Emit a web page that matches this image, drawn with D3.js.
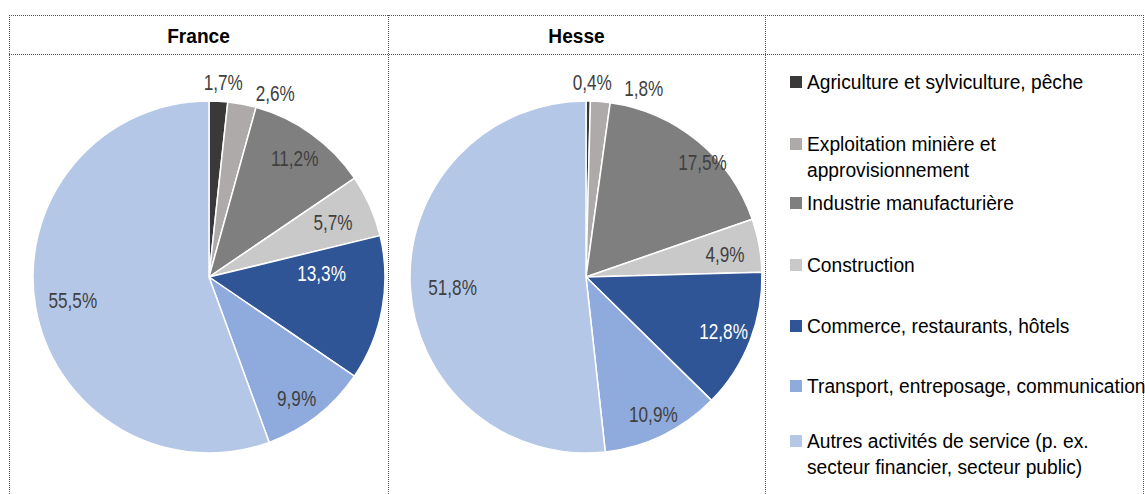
<!DOCTYPE html>
<html>
<head>
<meta charset="utf-8">
<script src="https://cdn.jsdelivr.net/npm/d3@7"></script>
<style>
  body { margin: 0; background: #fff; }
  svg { display: block; }
</style>
</head>
<body>
<div id="app"></div>
<script>
// categories and values
const categories = [
  'Agriculture et sylviculture, pêche',
  'Exploitation minière et|approvisionnement',
  'Industrie manufacturière',
  'Construction',
  'Commerce, restaurants, hôtels',
  'Transport, entreposage, communication',
  'Autres activités de service (p. ex.|secteur financier, secteur public)'
]
const colors = ['#3a3838', '#aeaaaa', '#7f7f7f', '#c9c9c9', '#2f5597', '#8faadc', '#b4c7e7']
const franceValues = [1.7, 2.6, 11.2, 5.7, 13.3, 9.9, 55.5]
const hesseValues = [0.4, 1.8, 17.5, 4.9, 12.8, 10.9, 51.8]
const titles = ['France', 'Hesse']

// label placement: fraction of radius and angle nudge (degrees) per slice
const franceLabelR = [1.11, 1.11, 0.835, 0.77, 0.64, 0.85, 0.785]
const franceLabelNudge = [1.1, 9, 0, 0, -12.3, 2, 0.3]
const hesseLabelR = [1.11, 1.123, 0.93, 0.8, 0.84, 0.87, 0.76]
const hesseLabelNudge = [1.1, 12.3, 6, 1, 0, -0.2, -1]

const W = 1145, H = 494
const fontFam = '"Liberation Sans", Arial, sans-serif'

const svg = d3.select('#app').append('svg')
  .attr('width', W).attr('height', H)
  .style('font-family', fontFam)

// table grid (dotted)
const colX = [9, 388, 765, 1143]
const rowTop = 15, rowHead = 54
const grid = svg.append('g')
  .attr('stroke', '#555').attr('stroke-width', 1).attr('stroke-dasharray', '1,1')
  .attr('shape-rendering', 'crispEdges')
grid.selectAll('line.v').data(colX).join('line')
  .attr('x1', d => d + 0.5).attr('x2', d => d + 0.5)
  .attr('y1', rowTop).attr('y2', H)
grid.selectAll('line.h').data([rowTop, rowHead]).join('line')
  .attr('x1', colX[0]).attr('x2', colX[3])
  .attr('y1', d => d + 0.5).attr('y2', d => d + 0.5)

// header titles (condensed look via horizontal scale)
svg.selectAll('text.title').data(titles).join('text')
  .attr('transform', (d, i) => `translate(${(colX[i] + colX[i + 1]) / 2},${(rowTop + rowHead) / 2 + 8}) scale(0.91,1)`)
  .attr('text-anchor', 'middle')
  .attr('font-weight', 'bold')
  .attr('font-size', 21)
  .attr('fill', '#000')
  .text(d => d)

const radius = 176
const pie = d3.pie().sort(null).value(d => d)
const arc = d3.arc().innerRadius(0).outerRadius(radius)

function drawPie(values, cx, cy, labelR, labelNudge) {
  const g = svg.append('g').attr('transform', `translate(${cx},${cy})`)
  const arcs = pie(values)
  g.selectAll('path').data(arcs).join('path')
    .attr('d', arc)
    .attr('fill', (d, i) => colors[i])
    .attr('stroke', '#fff')
    .attr('stroke-width', 1.5)
    .attr('stroke-linejoin', 'round')

  // label positions from each slice's mid angle
  const pos = arcs.map((d, i) => {
    const a = (d.startAngle + d.endAngle) / 2 + labelNudge[i] * Math.PI / 180
    const r = radius * labelR[i]
    return [Math.sin(a) * r, -Math.cos(a) * r]
  })

  g.selectAll('text').data(arcs).join('text')
    .attr('transform', (d, i) => `translate(${pos[i][0]},${pos[i][1]}) scale(0.78,1)`)
    .attr('dy', '0.36em')
    .attr('text-anchor', 'middle')
    .attr('font-size', 22)
    .attr('fill', (d, i) => i === 4 ? '#fff' : '#404040')
    .text(d => d3.format('.1f')(d.value).replace('.', ',') + '%')
}

drawPie(franceValues, 209, 277, franceLabelR, franceLabelNudge)
drawPie(hesseValues, 586, 277, hesseLabelR, hesseLabelNudge)

// legend
const legendY = [82, 157, 203, 265, 326, 386, 454]
const items = svg.append('g').selectAll('g').data(categories).join('g')
  .attr('transform', (d, i) => `translate(790,${legendY[i]})`)
items.append('rect')
  .attr('x', 0).attr('width', 12).attr('height', 12)
  .attr('y', (d) => d.includes('|') ? -13 - 6 : -6)
  .attr('fill', (d, i) => colors[i])
items.append('text')
  .attr('transform', 'translate(17,0) scale(0.96,1)')
  .attr('font-size', 20)
  .attr('fill', '#000')
  .each(function (d) {
    const lines = d.split('|')
    const t = d3.select(this)
    lines.forEach((line, j) => {
      t.append('tspan')
        .attr('x', 0)
        .attr('y', (j - (lines.length - 1) / 2) * 26)
        .attr('dy', '0.35em')
        .text(line)
    })
  })
</script>
</body>
</html>
